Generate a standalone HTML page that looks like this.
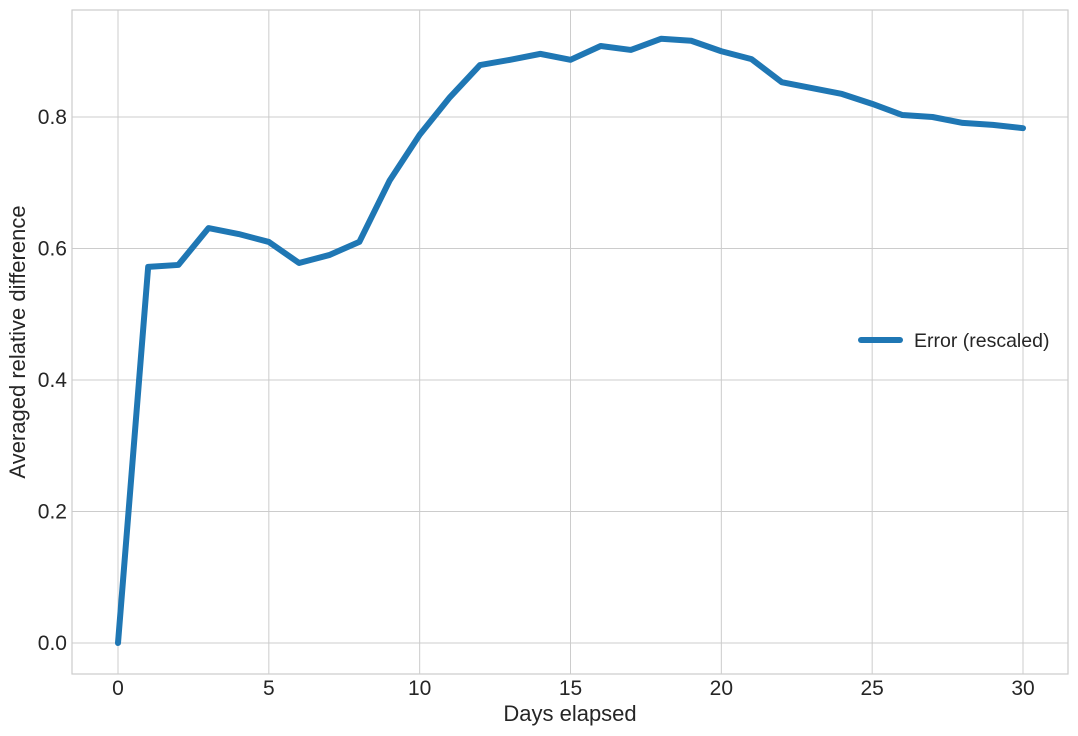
<!DOCTYPE html>
<html><head><meta charset="utf-8"><style>
body{margin:0;background:#fff;}
svg{display:block;font-family:"Liberation Sans",sans-serif;}
</style></head><body>
<svg id="chart" width="1078" height="736">
<rect x="72" y="10" width="996" height="664" fill="#fff" stroke="#ccc" stroke-width="1.2"/>
<g id="grid"></g><g id="ticks"></g>
<path id="line" fill="none" stroke="#1f77b4" stroke-width="6" stroke-linejoin="round" stroke-linecap="round"/>
<text x="570" y="721" font-size="22" text-anchor="middle" fill="#262626">Days elapsed</text>
<text transform="translate(25,342) rotate(-90)" font-size="22" text-anchor="middle" fill="#262626">Averaged relative difference</text>
<g>
<line x1="861" y1="340" x2="900" y2="340" stroke="#1f77b4" stroke-width="6" stroke-linecap="round"/>
<text x="914" y="347" font-size="19.5" fill="#262626">Error (rescaled)</text>
</g>
</svg>
<script>
const days=[0,1,2,3,4,5,6,7,8,9,10,11,12,13,14,15,16,17,18,19,20,21,22,23,24,25,26,27,28,29,30];
const errorValues=[0,0.572,0.575,0.631,0.622,0.610,0.578,0.590,0.610,0.703,0.773,0.830,0.879,0.887,0.896,0.887,0.908,0.902,0.919,0.916,0.900,0.888,0.853,0.844,0.835,0.820,0.803,0.800,0.791,0.788,0.783];
const xTicks=[0,5,10,15,20,25,30];
const yTicks=[0,0.2,0.4,0.6,0.8];
const xs=v=>118+v*(1023-118)/30;
const ys=v=>643-v*(643-117)/0.8;
const NS="http://www.w3.org/2000/svg";
const grid=document.getElementById('grid'),ticks=document.getElementById('ticks');
xTicks.forEach(t=>{
 const l=document.createElementNS(NS,'line');
 
 
 l.setAttribute('x1',xs(t));l.setAttribute('x2',xs(t));l.setAttribute('y1',10);l.setAttribute('y2',674);
 l.setAttribute('stroke','#ccc');l.setAttribute('stroke-width','1');grid.appendChild(l);
 const tx=document.createElementNS(NS,'text');
 
 
 tx.setAttribute('x',xs(t));tx.setAttribute('y',695);tx.setAttribute('font-size','21');
 tx.setAttribute('text-anchor','middle');tx.setAttribute('fill','#262626');tx.textContent=t;ticks.appendChild(tx);
});
yTicks.forEach(t=>{
 const l=document.createElementNS(NS,'line');
 
 
 l.setAttribute('x1',72);l.setAttribute('x2',1068);l.setAttribute('y1',ys(t));l.setAttribute('y2',ys(t));
 l.setAttribute('stroke','#ccc');l.setAttribute('stroke-width','1');grid.appendChild(l);
 const tx=document.createElementNS(NS,'text');
 
 
 tx.setAttribute('x',67);tx.setAttribute('y',ys(t)+7);tx.setAttribute('font-size','21');
 tx.setAttribute('text-anchor','end');tx.setAttribute('fill','#262626');tx.textContent=t.toFixed(1);ticks.appendChild(tx);
});
document.getElementById('line').setAttribute('d',days.map((d,i)=>(i?'L':'M')+xs(d)+','+ys(errorValues[i])).join(' '));
</script>
</body></html>
